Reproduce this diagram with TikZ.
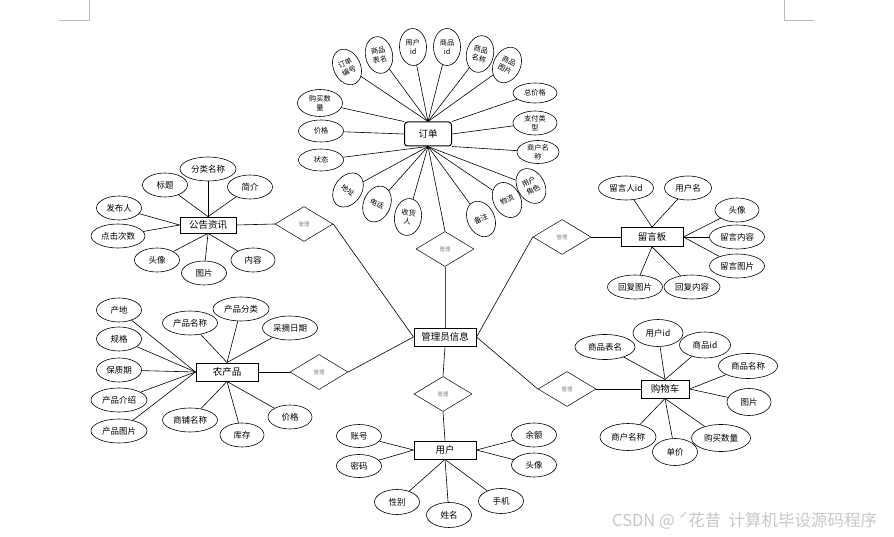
\documentclass[tikz,border=0pt]{standalone}
\usepackage{fontspec}
\setmainfont{Noto Sans CJK SC}
\usetikzlibrary{shapes.geometric}
\tikzset{
  ent/.style={rectangle, draw, line width=0.8pt, minimum width=62, minimum height=18, inner sep=1pt, font=\fontsize{9.5}{11}\selectfont},
  attr/.style={ellipse, draw, line width=0.6pt, minimum width=45, minimum height=24, inner sep=0pt, font=\fontsize{8.5}{10}\selectfont},
  oattr/.style={ellipse, draw, line width=0.6pt, minimum width=27, minimum height=37, inner sep=0pt, align=center, font=\fontsize{7.2}{9.2}\selectfont},
  hattr/.style={ellipse, draw, line width=0.6pt, minimum width=45, minimum height=22, inner sep=0pt, align=center, font=\fontsize{7.2}{9.2}\selectfont},
  rel/.style={diamond, draw, line width=0.5pt, minimum width=58, minimum height=35, inner sep=0pt, font=\fontsize{5.5}{6}\selectfont, text=gray},
  conn/.style={line width=0.6pt},
  corner/.style={draw=gray!55, line width=0.6pt}
}
\begin{document}
\begin{tikzpicture}[x=1pt,y=-1pt]
\useasboundingbox (0,0) rectangle (894,537);
% corner marks
\draw[corner] (59,20) -- (89,20) -- (89,0);
\draw[corner] (784,0) -- (784,20) -- (814,20);

% ===== central entities =====
\node[ent, minimum width=62, line width=1pt] (admin) at (445,337) {管理员信息};
\node[ent] (user) at (445,450) {用户};
\node[ent, rounded corners=3pt, minimum width=47, minimum height=24, line width=1pt] (order) at (428,134) {订单};
\node[ent, minimum width=56, minimum height=16] (notice) at (208,225) {公告资讯};
\node[ent, line width=1pt] (farm) at (227,372) {农产品};
\node[ent, minimum height=19] (msg) at (652,237) {留言板};
\node[ent, minimum width=48, line width=1pt] (cart) at (665,389) {购物车};

% relations
\node[rel] (r1) at (445,249) {管理};
\node[rel] (r2) at (443,394) {管理};
\node[rel] (rn) at (304,224) {管理};
\node[rel] (rf) at (319,372) {管理};
\node[rel] (rm) at (562,237) {管理};
\node[rel] (rc) at (567,389) {管理};

\draw[conn] (order.south) -- (r1.north);
\draw[conn, line width=0.9pt, draw=black!70] (r1.south) -- (admin.north);
\draw[conn] (admin.south) -- (r2.north);
\draw[conn] (r2.south) -- (user.north);
\draw[conn] (notice.east) -- (rn.west);
\draw[conn] (rn.east) -- (admin.west);
\draw[conn] (farm.east) -- (rf.west);
\draw[conn] (rf.east) -- (admin.west);
\draw[conn] (msg.west) -- (rm.east);
\draw[conn] (rm.west) -- (admin.east);
\draw[conn] (cart.west) -- (rc.east);
\draw[conn] (rc.west) -- (admin.east);

% ===== order attributes =====
\node[oattr, rotate=25] (o1) at (347,67) {订单\\编号};
\node[oattr, rotate=12] (o2) at (379,55) {商品\\表名};
\node[oattr, rotate=3] (o3) at (413,47) {用户\\id};
\node[oattr] (o4) at (447,47) {商品\\id};
\node[oattr, rotate=-12] (o5) at (480,54) {商品\\名称};
\node[oattr, rotate=-25] (o6) at (507,65) {商品\\图片};
\node[hattr, minimum height=27] (o7) at (320,103) {购买数\\量};
\node[hattr] (o8) at (321,131) {价格};
\node[hattr] (o9) at (321,160) {状态};
\node[hattr, minimum width=44, minimum height=20] (o10) at (535,93) {总价格};
\node[hattr, minimum width=44, minimum height=24] (o11) at (535,123) {支付类\\型};
\node[hattr, minimum width=42, minimum height=23] (o12) at (538,152) {商户名\\称};
\node[oattr, rotate=-35] (o13) at (348,190) {地址};
\node[oattr, rotate=-22] (o14) at (377,204) {电话};
\node[oattr, rotate=-8] (o15) at (408,217) {收货\\人};
\node[oattr, rotate=25] (o16) at (481,219) {备注};
\node[oattr, rotate=28] (o17) at (507,200) {物流};
\node[oattr, rotate=30] (o18) at (531,186) {用户\\角色};

\foreach \a in {o1,o2,o3,o4,o5,o6} \draw[conn] (\a) -- (order.north);
\draw[conn] (o7) -- (order.north west);
\draw[conn] (o8) -- (order.west);
\draw[conn] (o10) -- (order.north east);
\draw[conn] (o11) -- (order.east);
\draw[conn] (o12) -- (order.south east);
\foreach \a in {o9,o13,o14,o15,o16,o17,o18} \draw[conn] (\a) -- (order.south);

% ===== notice attributes =====
\node[attr, minimum width=56] (n1) at (208,169) {分类名称};
\node[attr] (n2) at (165,185) {标题};
\node[attr] (n3) at (250,187) {简介};
\node[attr] (n4) at (119,208) {发布人};
\node[attr, minimum width=54] (n5) at (118,236) {点击次数};
\node[attr] (n6) at (157,260) {头像};
\node[attr] (n7) at (204,273) {图片};
\node[attr, minimum width=44] (n8) at (253,260) {内容};
\foreach \a in {n1,n2,n3} \draw[conn] (\a) -- (notice.north);
\foreach \a in {n4,n5} \draw[conn] (\a) -- (notice.west);
\foreach \a in {n6,n7,n8} \draw[conn] (\a) -- (notice.south);

% ===== farm product attributes =====
\node[attr] (f1) at (119,310) {产地};
\node[attr] (f2) at (119,339) {规格};
\node[attr] (f3) at (119,370) {保质期};
\node[attr, minimum width=56] (f4) at (119,400) {产品介绍};
\node[attr, minimum width=56] (f5) at (119,431) {产品图片};
\node[attr, minimum width=55] (f6) at (190,323) {产品名称};
\node[attr, minimum width=56] (f7) at (241,309) {产品分类};
\node[attr, minimum width=55] (f8) at (290,328) {采摘日期};
\node[attr, minimum width=55] (f9) at (190,420) {商铺名称};
\node[attr, minimum width=44] (f10) at (242,435) {库存};
\node[attr, minimum width=44] (f11) at (290,417) {价格};
\foreach \a in {f1,f2,f3,f4,f5} \draw[conn] (\a) -- (farm.west);
\foreach \a in {f6,f7,f8} \draw[conn] (\a) -- (farm.north);
\foreach \a in {f9,f10,f11} \draw[conn] (\a) -- (farm.south);

% ===== message board attributes =====
\node[attr, minimum width=55] (m1) at (626,188) {留言人id};
\node[attr, minimum width=47] (m2) at (688,188) {用户名};
\node[attr, minimum width=44] (m3) at (737,210) {头像};
\node[attr, minimum width=55] (m4) at (737,237) {留言内容};
\node[attr, minimum width=55] (m5) at (737,266) {留言图片};
\node[attr, minimum width=55] (m6) at (635,287) {回复图片};
\node[attr, minimum width=56] (m7) at (692,287) {回复内容};
\foreach \a in {m1,m2} \draw[conn] (\a) -- (msg.north);
\foreach \a in {m3,m4,m5} \draw[conn] (\a) -- (msg.east);
\foreach \a in {m6,m7} \draw[conn] (\a) -- (msg.south);

% ===== cart attributes =====
\node[attr, minimum width=50, minimum height=27] (c1) at (658,333) {用户id};
\node[attr, minimum width=60, minimum height=25] (c2) at (605,347) {商品表名};
\node[attr, minimum width=51, minimum height=26] (c3) at (705,345) {商品id};
\node[attr, minimum width=59, minimum height=25] (c4) at (748,366) {商品名称};
\node[attr, minimum width=44, minimum height=27] (c5) at (749,402) {图片};
\node[attr, minimum width=59, minimum height=27] (c6) at (721,438) {购买数量};
\node[attr, minimum width=45, minimum height=27] (c7) at (675,452) {单价};
\node[attr, minimum width=56, minimum height=27] (c8) at (628,437) {商户名称};
\foreach \a in {c1,c2,c3} \draw[conn] (\a) -- (cart.north);
\foreach \a in {c4,c5} \draw[conn] (\a) -- (cart.east);
\foreach \a in {c6,c7,c8} \draw[conn] (\a) -- (cart.south);

% ===== user attributes =====
\node[attr, minimum height=23] (u1) at (359,436) {账号};
\node[attr, minimum height=23] (u2) at (359,466) {密码};
\node[attr, minimum height=25] (u3) at (397,502) {性别};
\node[attr, minimum height=25] (u4) at (449,515) {姓名};
\node[attr, minimum height=25] (u5) at (501,501) {手机};
\node[attr, minimum height=24] (u6) at (534,435) {余额};
\node[attr, minimum height=24] (u7) at (534,465) {头像};
\foreach \a in {u1,u2} \draw[conn] (\a) -- (user.west);
\foreach \a in {u3,u4,u5} \draw[conn] (\a) -- (user.south);
\foreach \a in {u6,u7} \draw[conn] (\a) -- (user.east);

% watermark
\node[anchor=west, inner sep=0pt, text=black!22, font=\fontsize{16.5}{17}\selectfont] (wm) at (612,521) {CSDN @ ˊ花昔\ \ 计算机毕设源码程序};
\end{tikzpicture}
\end{document}
